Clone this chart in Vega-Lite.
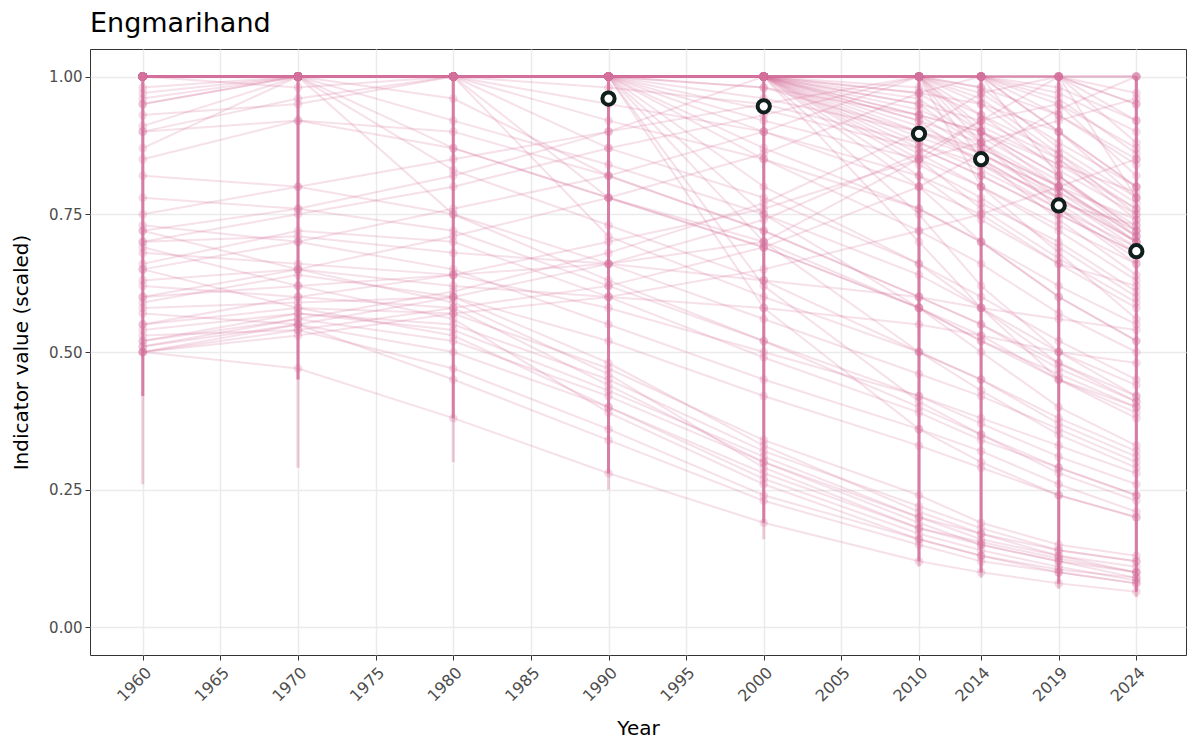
{
"$schema": "https://vega.github.io/schema/vega-lite/v6.json",
"width": 1096, "height": 606,
"autosize": {"type": "none"},
"padding": {"left": 90, "top": 49, "right": 14, "bottom": 95},
"background": "white",
"config": {
  "font": "DejaVu Sans",
  "view": {"stroke": "#333333", "strokeWidth": 1},
  "axis": {"gridColor": "#ebebeb", "gridWidth": 1.5, "domain": false, "tickColor": "#333333", "tickSize": 5, "tickWidth": 1, "labelColor": "#4d4d4d", "labelFontSize": 15, "titleFontSize": 20, "titleFontWeight": "normal", "titleColor": "#000000", "labelFont": "DejaVu Sans", "titleFont": "DejaVu Sans"}
},
"title": {"text": "Engmarihand", "anchor": "start", "frame": "group", "fontSize": 27, "fontWeight": "normal", "font": "DejaVu Sans", "color": "#000000", "offset": 11},
"datasets": {
"traj": [
{"g":1,"x":1960,"v":1},{"g":1,"x":1970,"v":1},{"g":1,"x":1980,"v":1},{"g":1,"x":1990,"v":1},{"g":1,"x":2000,"v":1},{"g":1,"x":2010,"v":1},{"g":1,"x":2014,"v":1},{"g":1,"x":2019,"v":1},{"g":1,"x":2024,"v":1},
{"g":2,"x":1960,"v":1},{"g":2,"x":1970,"v":1},{"g":2,"x":1980,"v":1},{"g":2,"x":1990,"v":1},{"g":2,"x":2000,"v":1},{"g":2,"x":2010,"v":1},{"g":2,"x":2014,"v":1},{"g":2,"x":2019,"v":1},{"g":2,"x":2024,"v":0.97},
{"g":3,"x":1960,"v":1},{"g":3,"x":1970,"v":1},{"g":3,"x":1980,"v":1},{"g":3,"x":1990,"v":1},{"g":3,"x":2000,"v":1},{"g":3,"x":2010,"v":1},{"g":3,"x":2014,"v":1},{"g":3,"x":2019,"v":0.98},{"g":3,"x":2024,"v":0.92},
{"g":4,"x":1960,"v":1},{"g":4,"x":1970,"v":1},{"g":4,"x":1980,"v":1},{"g":4,"x":1990,"v":1},{"g":4,"x":2000,"v":1},{"g":4,"x":2010,"v":1},{"g":4,"x":2014,"v":0.98},{"g":4,"x":2019,"v":0.93},{"g":4,"x":2024,"v":0.85},
{"g":5,"x":1960,"v":1},{"g":5,"x":1970,"v":1},{"g":5,"x":1980,"v":1},{"g":5,"x":1990,"v":1},{"g":5,"x":2000,"v":1},{"g":5,"x":2010,"v":0.97},{"g":5,"x":2014,"v":0.95},{"g":5,"x":2019,"v":0.9},{"g":5,"x":2024,"v":0.8},
{"g":6,"x":1960,"v":1},{"g":6,"x":1970,"v":1},{"g":6,"x":1980,"v":1},{"g":6,"x":1990,"v":1},{"g":6,"x":2000,"v":1},{"g":6,"x":2010,"v":0.95},{"g":6,"x":2014,"v":0.92},{"g":6,"x":2019,"v":0.85},{"g":6,"x":2024,"v":0.76},
{"g":7,"x":1960,"v":1},{"g":7,"x":1970,"v":1},{"g":7,"x":1980,"v":1},{"g":7,"x":1990,"v":1},{"g":7,"x":2000,"v":1},{"g":7,"x":2010,"v":0.93},{"g":7,"x":2014,"v":0.9},{"g":7,"x":2019,"v":0.82},{"g":7,"x":2024,"v":0.72},
{"g":8,"x":1960,"v":1},{"g":8,"x":1970,"v":1},{"g":8,"x":1980,"v":1},{"g":8,"x":1990,"v":1},{"g":8,"x":2000,"v":1},{"g":8,"x":2010,"v":0.9},{"g":8,"x":2014,"v":0.87},{"g":8,"x":2019,"v":0.8},{"g":8,"x":2024,"v":0.7},
{"g":9,"x":1960,"v":1},{"g":9,"x":1970,"v":1},{"g":9,"x":1980,"v":1},{"g":9,"x":1990,"v":1},{"g":9,"x":2000,"v":1},{"g":9,"x":2010,"v":1},{"g":9,"x":2014,"v":0.95},{"g":9,"x":2019,"v":0.85},{"g":9,"x":2024,"v":0.74},
{"g":10,"x":1960,"v":1},{"g":10,"x":1970,"v":1},{"g":10,"x":1980,"v":1},{"g":10,"x":1990,"v":1},{"g":10,"x":2000,"v":1},{"g":10,"x":2010,"v":0.88},{"g":10,"x":2014,"v":0.84},{"g":10,"x":2019,"v":0.78},{"g":10,"x":2024,"v":0.69},
{"g":11,"x":1960,"v":1},{"g":11,"x":1970,"v":1},{"g":11,"x":1980,"v":1},{"g":11,"x":1990,"v":1},{"g":11,"x":2000,"v":1},{"g":11,"x":2010,"v":0.86},{"g":11,"x":2014,"v":0.8},{"g":11,"x":2019,"v":0.73},{"g":11,"x":2024,"v":0.66},
{"g":12,"x":1960,"v":0.95},{"g":12,"x":1970,"v":1},{"g":12,"x":1980,"v":1},{"g":12,"x":1990,"v":1},{"g":12,"x":2000,"v":1},{"g":12,"x":2010,"v":1},{"g":12,"x":2014,"v":1},{"g":12,"x":2019,"v":0.9},{"g":12,"x":2024,"v":0.78},
{"g":13,"x":1960,"v":0.91},{"g":13,"x":1970,"v":1},{"g":13,"x":1980,"v":1},{"g":13,"x":1990,"v":1},{"g":13,"x":2000,"v":1},{"g":13,"x":2010,"v":0.92},{"g":13,"x":2014,"v":0.88},{"g":13,"x":2019,"v":0.8},{"g":13,"x":2024,"v":0.71},
{"g":14,"x":1960,"v":0.87},{"g":14,"x":1970,"v":1},{"g":14,"x":1980,"v":1},{"g":14,"x":1990,"v":1},{"g":14,"x":2000,"v":0.98},{"g":14,"x":2010,"v":0.9},{"g":14,"x":2014,"v":0.85},{"g":14,"x":2019,"v":0.77},{"g":14,"x":2024,"v":0.68},
{"g":15,"x":1960,"v":0.98},{"g":15,"x":1970,"v":1},{"g":15,"x":1980,"v":1},{"g":15,"x":1990,"v":1},{"g":15,"x":2000,"v":1},{"g":15,"x":2010,"v":1},{"g":15,"x":2014,"v":0.9},{"g":15,"x":2019,"v":0.82},{"g":15,"x":2024,"v":0.72},
{"g":16,"x":1960,"v":1},{"g":16,"x":1970,"v":1},{"g":16,"x":1980,"v":1},{"g":16,"x":1990,"v":1},{"g":16,"x":2000,"v":1},{"g":16,"x":2010,"v":1},{"g":16,"x":2014,"v":1},{"g":16,"x":2019,"v":0.95},{"g":16,"x":2024,"v":0.82},
{"g":17,"x":1960,"v":1},{"g":17,"x":1970,"v":1},{"g":17,"x":1980,"v":1},{"g":17,"x":1990,"v":1},{"g":17,"x":2000,"v":1},{"g":17,"x":2010,"v":0.98},{"g":17,"x":2014,"v":0.93},{"g":17,"x":2019,"v":0.86},{"g":17,"x":2024,"v":0.75},
{"g":18,"x":1960,"v":1},{"g":18,"x":1970,"v":1},{"g":18,"x":1980,"v":1},{"g":18,"x":1990,"v":1},{"g":18,"x":2000,"v":0.96},{"g":18,"x":2010,"v":0.9},{"g":18,"x":2014,"v":0.86},{"g":18,"x":2019,"v":0.78},{"g":18,"x":2024,"v":0.7},
{"g":19,"x":1960,"v":1},{"g":19,"x":1970,"v":1},{"g":19,"x":1980,"v":1},{"g":19,"x":1990,"v":0.98},{"g":19,"x":2000,"v":0.95},{"g":19,"x":2010,"v":0.88},{"g":19,"x":2014,"v":0.83},{"g":19,"x":2019,"v":0.76},{"g":19,"x":2024,"v":0.67},
{"g":20,"x":1960,"v":1},{"g":20,"x":1970,"v":1},{"g":20,"x":1980,"v":1},{"g":20,"x":1990,"v":1},{"g":20,"x":2000,"v":1},{"g":20,"x":2010,"v":0.84},{"g":20,"x":2014,"v":0.78},{"g":20,"x":2019,"v":0.69},{"g":20,"x":2024,"v":0.6},
{"g":21,"x":1960,"v":1},{"g":21,"x":1970,"v":0.98},{"g":21,"x":1980,"v":1},{"g":21,"x":1990,"v":1},{"g":21,"x":2000,"v":1},{"g":21,"x":2010,"v":1},{"g":21,"x":2014,"v":0.97},{"g":21,"x":2019,"v":0.88},{"g":21,"x":2024,"v":0.8},
{"g":22,"x":1960,"v":1},{"g":22,"x":1970,"v":1},{"g":22,"x":1980,"v":1},{"g":22,"x":1990,"v":1},{"g":22,"x":2000,"v":1},{"g":22,"x":2010,"v":0.8},{"g":22,"x":2014,"v":0.7},{"g":22,"x":2019,"v":0.6},{"g":22,"x":2024,"v":0.52},
{"g":23,"x":1960,"v":1},{"g":23,"x":1970,"v":1},{"g":23,"x":1980,"v":1},{"g":23,"x":1990,"v":1},{"g":23,"x":2000,"v":1},{"g":23,"x":2010,"v":0.75},{"g":23,"x":2014,"v":0.62},{"g":23,"x":2019,"v":0.5},{"g":23,"x":2024,"v":0.42},
{"g":24,"x":1960,"v":1},{"g":24,"x":1970,"v":1},{"g":24,"x":1980,"v":1},{"g":24,"x":1990,"v":1},{"g":24,"x":2000,"v":1},{"g":24,"x":2010,"v":1},{"g":24,"x":2014,"v":1},{"g":24,"x":2019,"v":1},{"g":24,"x":2024,"v":0.88},
{"g":25,"x":1960,"v":1},{"g":25,"x":1970,"v":1},{"g":25,"x":1980,"v":1},{"g":25,"x":1990,"v":1},{"g":25,"x":2000,"v":1},{"g":25,"x":2010,"v":1},{"g":25,"x":2014,"v":0.85},{"g":25,"x":2019,"v":0.74},{"g":25,"x":2024,"v":0.64},
{"g":26,"x":1960,"v":0.93},{"g":26,"x":1970,"v":0.95},{"g":26,"x":1980,"v":1},{"g":26,"x":1990,"v":1},{"g":26,"x":2000,"v":1},{"g":26,"x":2010,"v":1},{"g":26,"x":2014,"v":1},{"g":26,"x":2019,"v":0.96},{"g":26,"x":2024,"v":0.86},
{"g":27,"x":1960,"v":1},{"g":27,"x":1970,"v":1},{"g":27,"x":1980,"v":1},{"g":27,"x":1990,"v":1},{"g":27,"x":2000,"v":1},{"g":27,"x":2010,"v":0.96},{"g":27,"x":2014,"v":0.88},{"g":27,"x":2019,"v":0.78},{"g":27,"x":2024,"v":0.7},
{"g":28,"x":1960,"v":1},{"g":28,"x":1970,"v":1},{"g":28,"x":1980,"v":1},{"g":28,"x":1990,"v":1},{"g":28,"x":2000,"v":0.92},{"g":28,"x":2010,"v":0.85},{"g":28,"x":2014,"v":0.8},{"g":28,"x":2019,"v":0.72},{"g":28,"x":2024,"v":0.63},
{"g":29,"x":1960,"v":1},{"g":29,"x":1970,"v":1},{"g":29,"x":1980,"v":1},{"g":29,"x":1990,"v":1},{"g":29,"x":2000,"v":1},{"g":29,"x":2010,"v":1},{"g":29,"x":2014,"v":0.8},{"g":29,"x":2019,"v":0.68},{"g":29,"x":2024,"v":0.56},
{"g":30,"x":1960,"v":1},{"g":30,"x":1970,"v":1},{"g":30,"x":1980,"v":1},{"g":30,"x":1990,"v":1},{"g":30,"x":2000,"v":1},{"g":30,"x":2010,"v":0.7},{"g":30,"x":2014,"v":0.58},{"g":30,"x":2019,"v":0.45},{"g":30,"x":2024,"v":0.38},
{"g":31,"x":1960,"v":1},{"g":31,"x":1970,"v":1},{"g":31,"x":1980,"v":1},{"g":31,"x":1990,"v":1},{"g":31,"x":2000,"v":0.9},{"g":31,"x":2010,"v":0.8},{"g":31,"x":2014,"v":0.75},{"g":31,"x":2019,"v":0.66},{"g":31,"x":2024,"v":0.58},
{"g":32,"x":1960,"v":1},{"g":32,"x":1970,"v":1},{"g":32,"x":1980,"v":1},{"g":32,"x":1990,"v":1},{"g":32,"x":2000,"v":0.85},{"g":32,"x":2010,"v":0.72},{"g":32,"x":2014,"v":0.66},{"g":32,"x":2019,"v":0.57},{"g":32,"x":2024,"v":0.5},
{"g":33,"x":1960,"v":1},{"g":33,"x":1970,"v":1},{"g":33,"x":1980,"v":1},{"g":33,"x":1990,"v":1},{"g":33,"x":2000,"v":0.8},{"g":33,"x":2010,"v":0.66},{"g":33,"x":2014,"v":0.58},{"g":33,"x":2019,"v":0.48},{"g":33,"x":2024,"v":0.41},
{"g":34,"x":1960,"v":1},{"g":34,"x":1970,"v":1},{"g":34,"x":1980,"v":1},{"g":34,"x":1990,"v":1},{"g":34,"x":2000,"v":0.75},{"g":34,"x":2010,"v":0.58},{"g":34,"x":2014,"v":0.5},{"g":34,"x":2019,"v":0.4},{"g":34,"x":2024,"v":0.33},
{"g":35,"x":1960,"v":1},{"g":35,"x":1970,"v":1},{"g":35,"x":1980,"v":1},{"g":35,"x":1990,"v":1},{"g":35,"x":2000,"v":0.7},{"g":35,"x":2010,"v":0.5},{"g":35,"x":2014,"v":0.43},{"g":35,"x":2019,"v":0.35},{"g":35,"x":2024,"v":0.29},
{"g":36,"x":1960,"v":1},{"g":36,"x":1970,"v":1},{"g":36,"x":1980,"v":1},{"g":36,"x":1990,"v":1},{"g":36,"x":2000,"v":0.62},{"g":36,"x":2010,"v":0.41},{"g":36,"x":2014,"v":0.35},{"g":36,"x":2019,"v":0.28},{"g":36,"x":2024,"v":0.23},
{"g":37,"x":1960,"v":1},{"g":37,"x":1970,"v":1},{"g":37,"x":1980,"v":1},{"g":37,"x":1990,"v":1},{"g":37,"x":2000,"v":0.58},{"g":37,"x":2010,"v":0.36},{"g":37,"x":2014,"v":0.3},{"g":37,"x":2019,"v":0.24},{"g":37,"x":2024,"v":0.2},
{"g":38,"x":1960,"v":0.96},{"g":38,"x":1970,"v":1},{"g":38,"x":1980,"v":1},{"g":38,"x":1990,"v":1},{"g":38,"x":2000,"v":0.87},{"g":38,"x":2010,"v":0.76},{"g":38,"x":2014,"v":0.7},{"g":38,"x":2019,"v":0.62},{"g":38,"x":2024,"v":0.55},
{"g":39,"x":1960,"v":1},{"g":39,"x":1970,"v":1},{"g":39,"x":1980,"v":1},{"g":39,"x":1990,"v":0.92},{"g":39,"x":2000,"v":0.85},{"g":39,"x":2010,"v":0.76},{"g":39,"x":2014,"v":0.7},{"g":39,"x":2019,"v":0.6},{"g":39,"x":2024,"v":0.52},
{"g":40,"x":1960,"v":1},{"g":40,"x":1970,"v":1},{"g":40,"x":1980,"v":1},{"g":40,"x":1990,"v":0.87},{"g":40,"x":2000,"v":0.78},{"g":40,"x":2010,"v":0.66},{"g":40,"x":2014,"v":0.6},{"g":40,"x":2019,"v":0.52},{"g":40,"x":2024,"v":0.45},
{"g":41,"x":1960,"v":1},{"g":41,"x":1970,"v":1},{"g":41,"x":1980,"v":1},{"g":41,"x":1990,"v":0.78},{"g":41,"x":2000,"v":0.69},{"g":41,"x":2010,"v":0.58},{"g":41,"x":2014,"v":0.53},{"g":41,"x":2019,"v":0.45},{"g":41,"x":2024,"v":0.4},
{"g":42,"x":1960,"v":1},{"g":42,"x":1970,"v":1},{"g":42,"x":1980,"v":1},{"g":42,"x":1990,"v":0.71},{"g":42,"x":2000,"v":0.6},{"g":42,"x":2010,"v":0.5},{"g":42,"x":2014,"v":0.45},{"g":42,"x":2019,"v":0.37},{"g":42,"x":2024,"v":0.31},
{"g":43,"x":1960,"v":1},{"g":43,"x":1970,"v":1},{"g":43,"x":1980,"v":0.96},{"g":43,"x":1990,"v":0.82},{"g":43,"x":2000,"v":0.72},{"g":43,"x":2010,"v":0.6},{"g":43,"x":2014,"v":0.55},{"g":43,"x":2019,"v":0.47},{"g":43,"x":2024,"v":0.41},
{"g":44,"x":1960,"v":1},{"g":44,"x":1970,"v":1},{"g":44,"x":1980,"v":1},{"g":44,"x":1990,"v":0.95},{"g":44,"x":2000,"v":0.9},{"g":44,"x":2010,"v":0.82},{"g":44,"x":2014,"v":0.77},{"g":44,"x":2019,"v":0.7},{"g":44,"x":2024,"v":0.61},
{"g":45,"x":1960,"v":1},{"g":45,"x":1970,"v":1},{"g":45,"x":1980,"v":0.92},{"g":45,"x":1990,"v":0.84},{"g":45,"x":2000,"v":0.75},{"g":45,"x":2010,"v":0.64},{"g":45,"x":2014,"v":0.58},{"g":45,"x":2019,"v":0.5},{"g":45,"x":2024,"v":0.44},
{"g":46,"x":1960,"v":1},{"g":46,"x":1970,"v":1},{"g":46,"x":1980,"v":0.83},{"g":46,"x":1990,"v":0.73},{"g":46,"x":2000,"v":0.63},{"g":46,"x":2010,"v":0.5},{"g":46,"x":2014,"v":0.45},{"g":46,"x":2019,"v":0.38},{"g":46,"x":2024,"v":0.32},
{"g":47,"x":1960,"v":1},{"g":47,"x":1970,"v":1},{"g":47,"x":1980,"v":0.75},{"g":47,"x":1990,"v":0.63},{"g":47,"x":2000,"v":0.52},{"g":47,"x":2010,"v":0.4},{"g":47,"x":2014,"v":0.35},{"g":47,"x":2019,"v":0.29},{"g":47,"x":2024,"v":0.24},
{"g":48,"x":1960,"v":0.95},{"g":48,"x":1970,"v":1},{"g":48,"x":1980,"v":0.87},{"g":48,"x":1990,"v":0.78},{"g":48,"x":2000,"v":0.69},{"g":48,"x":2010,"v":0.58},{"g":48,"x":2014,"v":0.52},{"g":48,"x":2019,"v":0.45},{"g":48,"x":2024,"v":0.39},
{"g":49,"x":1960,"v":0.5},{"g":49,"x":1970,"v":0.54},{"g":49,"x":1980,"v":0.58},{"g":49,"x":1990,"v":0.62},{"g":49,"x":2000,"v":0.69},{"g":49,"x":2010,"v":0.8},{"g":49,"x":2014,"v":0.86},{"g":49,"x":2019,"v":0.94},{"g":49,"x":2024,"v":1},
{"g":50,"x":1960,"v":0.51},{"g":50,"x":1970,"v":0.55},{"g":50,"x":1980,"v":0.6},{"g":50,"x":1990,"v":0.66},{"g":50,"x":2000,"v":0.74},{"g":50,"x":2010,"v":0.86},{"g":50,"x":2014,"v":0.92},{"g":50,"x":2019,"v":1},{"g":50,"x":2024,"v":1},
{"g":51,"x":1960,"v":0.52},{"g":51,"x":1970,"v":0.56},{"g":51,"x":1980,"v":0.61},{"g":51,"x":1990,"v":0.68},{"g":51,"x":2000,"v":0.77},{"g":51,"x":2010,"v":0.9},{"g":51,"x":2014,"v":0.97},{"g":51,"x":2019,"v":1},{"g":51,"x":2024,"v":0.95},
{"g":52,"x":1960,"v":0.5},{"g":52,"x":1970,"v":0.53},{"g":52,"x":1980,"v":0.57},{"g":52,"x":1990,"v":0.6},{"g":52,"x":2000,"v":0.65},{"g":52,"x":2010,"v":0.72},{"g":52,"x":2014,"v":0.75},{"g":52,"x":2019,"v":0.8},{"g":52,"x":2024,"v":0.85},
{"g":53,"x":1960,"v":0.55},{"g":53,"x":1970,"v":0.6},{"g":53,"x":1980,"v":0.64},{"g":53,"x":1990,"v":0.7},{"g":53,"x":2000,"v":0.76},{"g":53,"x":2010,"v":0.85},{"g":53,"x":2014,"v":0.88},{"g":53,"x":2019,"v":0.92},{"g":53,"x":2024,"v":0.96},
{"g":54,"x":1960,"v":0.65},{"g":54,"x":1970,"v":0.7},{"g":54,"x":1980,"v":0.76},{"g":54,"x":1990,"v":0.82},{"g":54,"x":2000,"v":0.9},{"g":54,"x":2010,"v":1},{"g":54,"x":2014,"v":1},{"g":54,"x":2019,"v":1},{"g":54,"x":2024,"v":0.92},
{"g":55,"x":1960,"v":0.7},{"g":55,"x":1970,"v":0.75},{"g":55,"x":1980,"v":0.8},{"g":55,"x":1990,"v":0.87},{"g":55,"x":2000,"v":0.93},{"g":55,"x":2010,"v":1},{"g":55,"x":2014,"v":1},{"g":55,"x":2019,"v":0.97},{"g":55,"x":2024,"v":0.9},
{"g":56,"x":1960,"v":0.72},{"g":56,"x":1970,"v":0.76},{"g":56,"x":1980,"v":0.82},{"g":56,"x":1990,"v":0.9},{"g":56,"x":2000,"v":1},{"g":56,"x":2010,"v":1},{"g":56,"x":2014,"v":1},{"g":56,"x":2019,"v":1},{"g":56,"x":2024,"v":0.95},
{"g":57,"x":1960,"v":0.6},{"g":57,"x":1970,"v":0.65},{"g":57,"x":1980,"v":0.71},{"g":57,"x":1990,"v":0.78},{"g":57,"x":2000,"v":0.86},{"g":57,"x":2010,"v":0.97},{"g":57,"x":2014,"v":1},{"g":57,"x":2019,"v":1},{"g":57,"x":2024,"v":1},
{"g":58,"x":1960,"v":0.5},{"g":58,"x":1970,"v":0.55},{"g":58,"x":1980,"v":0.5},{"g":58,"x":1990,"v":0.4},{"g":58,"x":2000,"v":0.28},{"g":58,"x":2010,"v":0.18},{"g":58,"x":2014,"v":0.15},{"g":58,"x":2019,"v":0.12},{"g":58,"x":2024,"v":0.1},
{"g":59,"x":1960,"v":0.51},{"g":59,"x":1970,"v":0.56},{"g":59,"x":1980,"v":0.52},{"g":59,"x":1990,"v":0.42},{"g":59,"x":2000,"v":0.3},{"g":59,"x":2010,"v":0.2},{"g":59,"x":2014,"v":0.16},{"g":59,"x":2019,"v":0.13},{"g":59,"x":2024,"v":0.11},
{"g":60,"x":1960,"v":0.52},{"g":60,"x":1970,"v":0.57},{"g":60,"x":1980,"v":0.55},{"g":60,"x":1990,"v":0.45},{"g":60,"x":2000,"v":0.32},{"g":60,"x":2010,"v":0.22},{"g":60,"x":2014,"v":0.18},{"g":60,"x":2019,"v":0.14},{"g":60,"x":2024,"v":0.12},
{"g":61,"x":1960,"v":0.55},{"g":61,"x":1970,"v":0.58},{"g":61,"x":1980,"v":0.57},{"g":61,"x":1990,"v":0.47},{"g":61,"x":2000,"v":0.34},{"g":61,"x":2010,"v":0.24},{"g":61,"x":2014,"v":0.19},{"g":61,"x":2019,"v":0.15},{"g":61,"x":2024,"v":0.13},
{"g":62,"x":1960,"v":0.58},{"g":62,"x":1970,"v":0.59},{"g":62,"x":1980,"v":0.6},{"g":62,"x":1990,"v":0.48},{"g":62,"x":2000,"v":0.33},{"g":62,"x":2010,"v":0.21},{"g":62,"x":2014,"v":0.17},{"g":62,"x":2019,"v":0.13},{"g":62,"x":2024,"v":0.1},
{"g":63,"x":1960,"v":0.62},{"g":63,"x":1970,"v":0.6},{"g":63,"x":1980,"v":0.58},{"g":63,"x":1990,"v":0.44},{"g":63,"x":2000,"v":0.3},{"g":63,"x":2010,"v":0.19},{"g":63,"x":2014,"v":0.15},{"g":63,"x":2019,"v":0.12},{"g":63,"x":2024,"v":0.09},
{"g":64,"x":1960,"v":0.65},{"g":64,"x":1970,"v":0.58},{"g":64,"x":1980,"v":0.53},{"g":64,"x":1990,"v":0.4},{"g":64,"x":2000,"v":0.27},{"g":64,"x":2010,"v":0.17},{"g":64,"x":2014,"v":0.14},{"g":64,"x":2019,"v":0.11},{"g":64,"x":2024,"v":0.085},
{"g":65,"x":1960,"v":0.53},{"g":65,"x":1970,"v":0.54},{"g":65,"x":1980,"v":0.47},{"g":65,"x":1990,"v":0.36},{"g":65,"x":2000,"v":0.24},{"g":65,"x":2010,"v":0.16},{"g":65,"x":2014,"v":0.13},{"g":65,"x":2019,"v":0.1},{"g":65,"x":2024,"v":0.08},
{"g":66,"x":1960,"v":0.5},{"g":66,"x":1970,"v":0.47},{"g":66,"x":1980,"v":0.38},{"g":66,"x":1990,"v":0.28},{"g":66,"x":2000,"v":0.19},{"g":66,"x":2010,"v":0.12},{"g":66,"x":2014,"v":0.1},{"g":66,"x":2019,"v":0.08},{"g":66,"x":2024,"v":0.065},
{"g":67,"x":1960,"v":0.69},{"g":67,"x":1970,"v":0.62},{"g":67,"x":1980,"v":0.56},{"g":67,"x":1990,"v":0.39},{"g":67,"x":2000,"v":0.26},{"g":67,"x":2010,"v":0.16},{"g":67,"x":2014,"v":0.13},{"g":67,"x":2019,"v":0.105},{"g":67,"x":2024,"v":0.09},
{"g":68,"x":1960,"v":0.72},{"g":68,"x":1970,"v":0.65},{"g":68,"x":1980,"v":0.59},{"g":68,"x":1990,"v":0.46},{"g":68,"x":2000,"v":0.29},{"g":68,"x":2010,"v":0.18},{"g":68,"x":2014,"v":0.155},{"g":68,"x":2019,"v":0.125},{"g":68,"x":2024,"v":0.1},
{"g":69,"x":1960,"v":0.54},{"g":69,"x":1970,"v":0.57},{"g":69,"x":1980,"v":0.54},{"g":69,"x":1990,"v":0.43},{"g":69,"x":2000,"v":0.31},{"g":69,"x":2010,"v":0.2},{"g":69,"x":2014,"v":0.17},{"g":69,"x":2019,"v":0.14},{"g":69,"x":2024,"v":0.12},
{"g":70,"x":1960,"v":0.57},{"g":70,"x":1970,"v":0.55},{"g":70,"x":1980,"v":0.45},{"g":70,"x":1990,"v":0.34},{"g":70,"x":2000,"v":0.23},{"g":70,"x":2010,"v":0.15},{"g":70,"x":2014,"v":0.12},{"g":70,"x":2019,"v":0.1},{"g":70,"x":2024,"v":0.08},
{"g":71,"x":1960,"v":0.73},{"g":71,"x":1970,"v":0.7},{"g":71,"x":1980,"v":0.65},{"g":71,"x":1990,"v":0.55},{"g":71,"x":2000,"v":0.45},{"g":71,"x":2010,"v":0.36},{"g":71,"x":2014,"v":0.32},{"g":71,"x":2019,"v":0.26},{"g":71,"x":2024,"v":0.21},
{"g":72,"x":1960,"v":0.82},{"g":72,"x":1970,"v":0.8},{"g":72,"x":1980,"v":0.75},{"g":72,"x":1990,"v":0.66},{"g":72,"x":2000,"v":0.56},{"g":72,"x":2010,"v":0.46},{"g":72,"x":2014,"v":0.42},{"g":72,"x":2019,"v":0.36},{"g":72,"x":2024,"v":0.3},
{"g":73,"x":1960,"v":0.85},{"g":73,"x":1970,"v":0.92},{"g":73,"x":1980,"v":0.9},{"g":73,"x":1990,"v":0.82},{"g":73,"x":2000,"v":0.72},{"g":73,"x":2010,"v":0.6},{"g":73,"x":2014,"v":0.55},{"g":73,"x":2019,"v":0.48},{"g":73,"x":2024,"v":0.42},
{"g":74,"x":1960,"v":0.68},{"g":74,"x":1970,"v":0.66},{"g":74,"x":1980,"v":0.64},{"g":74,"x":1990,"v":0.58},{"g":74,"x":2000,"v":0.5},{"g":74,"x":2010,"v":0.42},{"g":74,"x":2014,"v":0.38},{"g":74,"x":2019,"v":0.33},{"g":74,"x":2024,"v":0.28},
{"g":75,"x":1960,"v":0.9},{"g":75,"x":1970,"v":0.92},{"g":75,"x":1980,"v":0.87},{"g":75,"x":1990,"v":0.78},{"g":75,"x":2000,"v":0.7},{"g":75,"x":2010,"v":0.58},{"g":75,"x":2014,"v":0.52},{"g":75,"x":2019,"v":0.46},{"g":75,"x":2024,"v":0.4},
{"g":76,"x":1960,"v":0.78},{"g":76,"x":1970,"v":0.76},{"g":76,"x":1980,"v":0.72},{"g":76,"x":1990,"v":0.62},{"g":76,"x":2000,"v":0.52},{"g":76,"x":2010,"v":0.42},{"g":76,"x":2014,"v":0.37},{"g":76,"x":2019,"v":0.31},{"g":76,"x":2024,"v":0.26},
{"g":77,"x":1960,"v":0.66},{"g":77,"x":1970,"v":0.72},{"g":77,"x":1980,"v":0.7},{"g":77,"x":1990,"v":0.6},{"g":77,"x":2000,"v":0.49},{"g":77,"x":2010,"v":0.39},{"g":77,"x":2014,"v":0.34},{"g":77,"x":2019,"v":0.29},{"g":77,"x":2024,"v":0.24},
{"g":78,"x":1960,"v":0.59},{"g":78,"x":1970,"v":0.64},{"g":78,"x":1980,"v":0.6},{"g":78,"x":1990,"v":0.52},{"g":78,"x":2000,"v":0.42},{"g":78,"x":2010,"v":0.33},{"g":78,"x":2014,"v":0.29},{"g":78,"x":2019,"v":0.24},{"g":78,"x":2024,"v":0.2},
{"g":79,"x":1960,"v":0.7},{"g":79,"x":1970,"v":0.71},{"g":79,"x":1980,"v":0.68},{"g":79,"x":1990,"v":0.66},{"g":79,"x":2000,"v":0.63},{"g":79,"x":2010,"v":0.6},{"g":79,"x":2014,"v":0.58},{"g":79,"x":2019,"v":0.56},{"g":79,"x":2024,"v":0.54},
{"g":80,"x":1960,"v":0.63},{"g":80,"x":1970,"v":0.65},{"g":80,"x":1980,"v":0.62},{"g":80,"x":1990,"v":0.6},{"g":80,"x":2000,"v":0.58},{"g":80,"x":2010,"v":0.55},{"g":80,"x":2014,"v":0.53},{"g":80,"x":2019,"v":0.5},{"g":80,"x":2024,"v":0.48},
{"g":81,"x":1960,"v":1},{"g":81,"x":1970,"v":1},{"g":81,"x":1980,"v":1},{"g":81,"x":1990,"v":1},{"g":81,"x":2000,"v":1},{"g":81,"x":2010,"v":1},{"g":81,"x":2014,"v":0.96},{"g":81,"x":2019,"v":0.86},{"g":81,"x":2024,"v":0.77},
{"g":82,"x":1960,"v":1},{"g":82,"x":1970,"v":1},{"g":82,"x":1980,"v":1},{"g":82,"x":1990,"v":1},{"g":82,"x":2000,"v":1},{"g":82,"x":2010,"v":0.94},{"g":82,"x":2014,"v":0.89},{"g":82,"x":2019,"v":0.81},{"g":82,"x":2024,"v":0.73},
{"g":83,"x":1960,"v":1},{"g":83,"x":1970,"v":1},{"g":83,"x":1980,"v":1},{"g":83,"x":1990,"v":1},{"g":83,"x":2000,"v":1},{"g":83,"x":2010,"v":0.91},{"g":83,"x":2014,"v":0.86},{"g":83,"x":2019,"v":0.79},{"g":83,"x":2024,"v":0.72},
{"g":84,"x":1960,"v":1},{"g":84,"x":1970,"v":1},{"g":84,"x":1980,"v":1},{"g":84,"x":1990,"v":1},{"g":84,"x":2000,"v":1},{"g":84,"x":2010,"v":1},{"g":84,"x":2014,"v":0.93},{"g":84,"x":2019,"v":0.83},{"g":84,"x":2024,"v":0.75},
{"g":85,"x":1960,"v":1},{"g":85,"x":1970,"v":1},{"g":85,"x":1980,"v":1},{"g":85,"x":1990,"v":1},{"g":85,"x":2000,"v":1},{"g":85,"x":2010,"v":0.97},{"g":85,"x":2014,"v":0.9},{"g":85,"x":2019,"v":0.8},{"g":85,"x":2024,"v":0.71},
{"g":86,"x":1960,"v":1},{"g":86,"x":1970,"v":1},{"g":86,"x":1980,"v":1},{"g":86,"x":1990,"v":1},{"g":86,"x":2000,"v":1},{"g":86,"x":2010,"v":0.87},{"g":86,"x":2014,"v":0.82},{"g":86,"x":2019,"v":0.75},{"g":86,"x":2024,"v":0.68},
{"g":87,"x":1960,"v":1},{"g":87,"x":1970,"v":1},{"g":87,"x":1980,"v":1},{"g":87,"x":1990,"v":1},{"g":87,"x":2000,"v":1},{"g":87,"x":2010,"v":1},{"g":87,"x":2014,"v":1},{"g":87,"x":2019,"v":0.9},{"g":87,"x":2024,"v":0.8},
{"g":88,"x":1960,"v":1},{"g":88,"x":1970,"v":1},{"g":88,"x":1980,"v":1},{"g":88,"x":1990,"v":1},{"g":88,"x":2000,"v":1},{"g":88,"x":2010,"v":0.92},{"g":88,"x":2014,"v":0.84},{"g":88,"x":2019,"v":0.76},{"g":88,"x":2024,"v":0.69},
{"g":89,"x":1960,"v":0.97},{"g":89,"x":1970,"v":1},{"g":89,"x":1980,"v":1},{"g":89,"x":1990,"v":1},{"g":89,"x":2000,"v":1},{"g":89,"x":2010,"v":1},{"g":89,"x":2014,"v":0.98},{"g":89,"x":2019,"v":0.87},{"g":89,"x":2024,"v":0.78},
{"g":90,"x":1960,"v":1},{"g":90,"x":1970,"v":1},{"g":90,"x":1980,"v":1},{"g":90,"x":1990,"v":1},{"g":90,"x":2000,"v":1},{"g":90,"x":2010,"v":0.89},{"g":90,"x":2014,"v":0.85},{"g":90,"x":2019,"v":0.77},{"g":90,"x":2024,"v":0.73},
{"g":91,"x":1960,"v":1},{"g":91,"x":1970,"v":1},{"g":91,"x":1980,"v":1},{"g":91,"x":1990,"v":1},{"g":91,"x":2000,"v":1},{"g":91,"x":2010,"v":1},{"g":91,"x":2014,"v":1},{"g":91,"x":2019,"v":0.82},{"g":91,"x":2024,"v":0.71},
{"g":92,"x":1960,"v":1},{"g":92,"x":1970,"v":1},{"g":92,"x":1980,"v":1},{"g":92,"x":1990,"v":1},{"g":92,"x":2000,"v":1},{"g":92,"x":2010,"v":0.95},{"g":92,"x":2014,"v":0.87},{"g":92,"x":2019,"v":0.8},{"g":92,"x":2024,"v":0.74},
{"g":93,"x":1960,"v":1},{"g":93,"x":1970,"v":1},{"g":93,"x":1980,"v":1},{"g":93,"x":1990,"v":1},{"g":93,"x":2000,"v":0.94},{"g":93,"x":2010,"v":0.87},{"g":93,"x":2014,"v":0.82},{"g":93,"x":2019,"v":0.75},{"g":93,"x":2024,"v":0.68},
{"g":94,"x":1960,"v":1},{"g":94,"x":1970,"v":1},{"g":94,"x":1980,"v":1},{"g":94,"x":1990,"v":1},{"g":94,"x":2000,"v":1},{"g":94,"x":2010,"v":1},{"g":94,"x":2014,"v":0.91},{"g":94,"x":2019,"v":0.84},{"g":94,"x":2024,"v":0.76},
{"g":95,"x":1960,"v":1},{"g":95,"x":1970,"v":1},{"g":95,"x":1980,"v":1},{"g":95,"x":1990,"v":1},{"g":95,"x":2000,"v":1},{"g":95,"x":2010,"v":0.85},{"g":95,"x":2014,"v":0.76},{"g":95,"x":2019,"v":0.67},{"g":95,"x":2024,"v":0.59},
{"g":96,"x":1960,"v":1},{"g":96,"x":1970,"v":1},{"g":96,"x":1980,"v":1},{"g":96,"x":1990,"v":1},{"g":96,"x":2000,"v":1},{"g":96,"x":2010,"v":1},{"g":96,"x":2014,"v":1},{"g":96,"x":2019,"v":1},{"g":96,"x":2024,"v":0.78},
{"g":97,"x":1960,"v":0.9},{"g":97,"x":1970,"v":0.96},{"g":97,"x":1980,"v":1},{"g":97,"x":1990,"v":1},{"g":97,"x":2000,"v":1},{"g":97,"x":2010,"v":0.93},{"g":97,"x":2014,"v":0.86},{"g":97,"x":2019,"v":0.79},{"g":97,"x":2024,"v":0.7},
{"g":98,"x":1960,"v":1},{"g":98,"x":1970,"v":1},{"g":98,"x":1980,"v":1},{"g":98,"x":1990,"v":1},{"g":98,"x":2000,"v":1},{"g":98,"x":2010,"v":1},{"g":98,"x":2014,"v":0.88},{"g":98,"x":2019,"v":0.76},{"g":98,"x":2024,"v":0.66},
{"g":99,"x":1960,"v":1},{"g":99,"x":1970,"v":1},{"g":99,"x":1980,"v":1},{"g":99,"x":1990,"v":1},{"g":99,"x":2000,"v":0.98},{"g":99,"x":2010,"v":0.93},{"g":99,"x":2014,"v":0.9},{"g":99,"x":2019,"v":0.84},{"g":99,"x":2024,"v":0.79},
{"g":100,"x":1960,"v":1},{"g":100,"x":1970,"v":1},{"g":100,"x":1980,"v":1},{"g":100,"x":1990,"v":1},{"g":100,"x":2000,"v":1},{"g":100,"x":2010,"v":0.82},{"g":100,"x":2014,"v":0.74},{"g":100,"x":2019,"v":0.66},{"g":100,"x":2024,"v":0.62},
{"g":101,"x":1960,"v":0.75},{"g":101,"x":1970,"v":0.8},{"g":101,"x":1980,"v":0.85},{"g":101,"x":1990,"v":0.9},{"g":101,"x":2000,"v":0.95},{"g":101,"x":2010,"v":1},{"g":101,"x":2014,"v":1},{"g":101,"x":2019,"v":0.93},{"g":101,"x":2024,"v":0.84},
{"g":102,"x":1960,"v":0.6},{"g":102,"x":1970,"v":0.62},{"g":102,"x":1980,"v":0.64},{"g":102,"x":1990,"v":0.66},{"g":102,"x":2000,"v":0.7},{"g":102,"x":2010,"v":0.85},{"g":102,"x":2014,"v":0.92},{"g":102,"x":2019,"v":0.95},{"g":102,"x":2024,"v":0.87}
],
"ranges": [
{"x":1960,"lo":0.26,"mid":0.42,"hi":1},
{"x":1970,"lo":0.29,"mid":0.45,"hi":1},
{"x":1980,"lo":0.3,"mid":0.38,"hi":1},
{"x":1990,"lo":0.25,"mid":0.28,"hi":1},
{"x":2000,"lo":0.16,"mid":0.19,"hi":1},
{"x":2010,"lo":0.11,"mid":0.12,"hi":1},
{"x":2014,"lo":0.09,"mid":0.1,"hi":1},
{"x":2019,"lo":0.07,"mid":0.08,"hi":1},
{"x":2024,"lo":0.055,"mid":0.065,"hi":1}
],
"median": [
{"x":1990,"v":0.96},{"x":2000,"v":0.946},{"x":2010,"v":0.896},{"x":2014,"v":0.85},{"x":2019,"v":0.766},{"x":2024,"v":0.683}
]
},
"layer": [
{"data": {"name": "ranges"}, "mark": {"type": "rule", "color": "#d4709a", "opacity": 0.35, "strokeWidth": 3},
 "encoding": {"x": {"field": "x", "type": "quantitative"}, "y": {"field": "lo", "type": "quantitative"}, "y2": {"field": "hi"}}},
{"data": {"name": "ranges"}, "mark": {"type": "rule", "color": "#d4709a", "opacity": 0.85, "strokeWidth": 3},
 "encoding": {"x": {"field": "x", "type": "quantitative"}, "y": {"field": "mid", "type": "quantitative"}, "y2": {"field": "hi"}}},
{"data": {"name": "traj"}, "mark": {"type": "line", "color": "#d4709a", "opacity": 0.22, "strokeWidth": 2},
 "encoding": {"x": {"field": "x", "type": "quantitative"}, "y": {"field": "v", "type": "quantitative"}, "detail": {"field": "g", "type": "nominal"}}},
{"data": {"name": "traj"}, "mark": {"type": "circle", "color": "#d4709a", "opacity": 0.25, "size": 75},
 "encoding": {"x": {"field": "x", "type": "quantitative"}, "y": {"field": "v", "type": "quantitative"}}},
{"data": {"name": "median"}, "mark": {"type": "point", "shape": "circle", "filled": true, "fill": "white", "stroke": "#0f1f1c", "strokeWidth": 4, "size": 150, "opacity": 1},
 "encoding": {"x": {"field": "x", "type": "quantitative"}, "y": {"field": "v", "type": "quantitative"}}}
],
"resolve": {"scale": {"x": "shared", "y": "shared"}},
"encoding": {
  "x": {"field": "x", "type": "quantitative", "title": "Year",
    "scale": {"domain": [1956.6, 2027.2], "nice": false, "zero": false},
    "axis": {"values": [1960,1965,1970,1975,1980,1985,1990,1995,2000,2005,2010,2014,2019,2024], "format": "d", "labelAngle": -45, "labelAlign": "right", "labelBaseline": "top", "labelPadding": 4, "labelFontSize": 16, "titlePadding": 14}},
  "y": {"field": "v", "type": "quantitative", "title": "Indicator value (scaled)",
    "scale": {"domain": [-0.05, 1.05], "nice": false, "zero": false},
    "axis": {"values": [0, 0.25, 0.5, 0.75, 1], "format": ".2f", "labelPadding": 3, "titlePadding": 17}}
}
}
